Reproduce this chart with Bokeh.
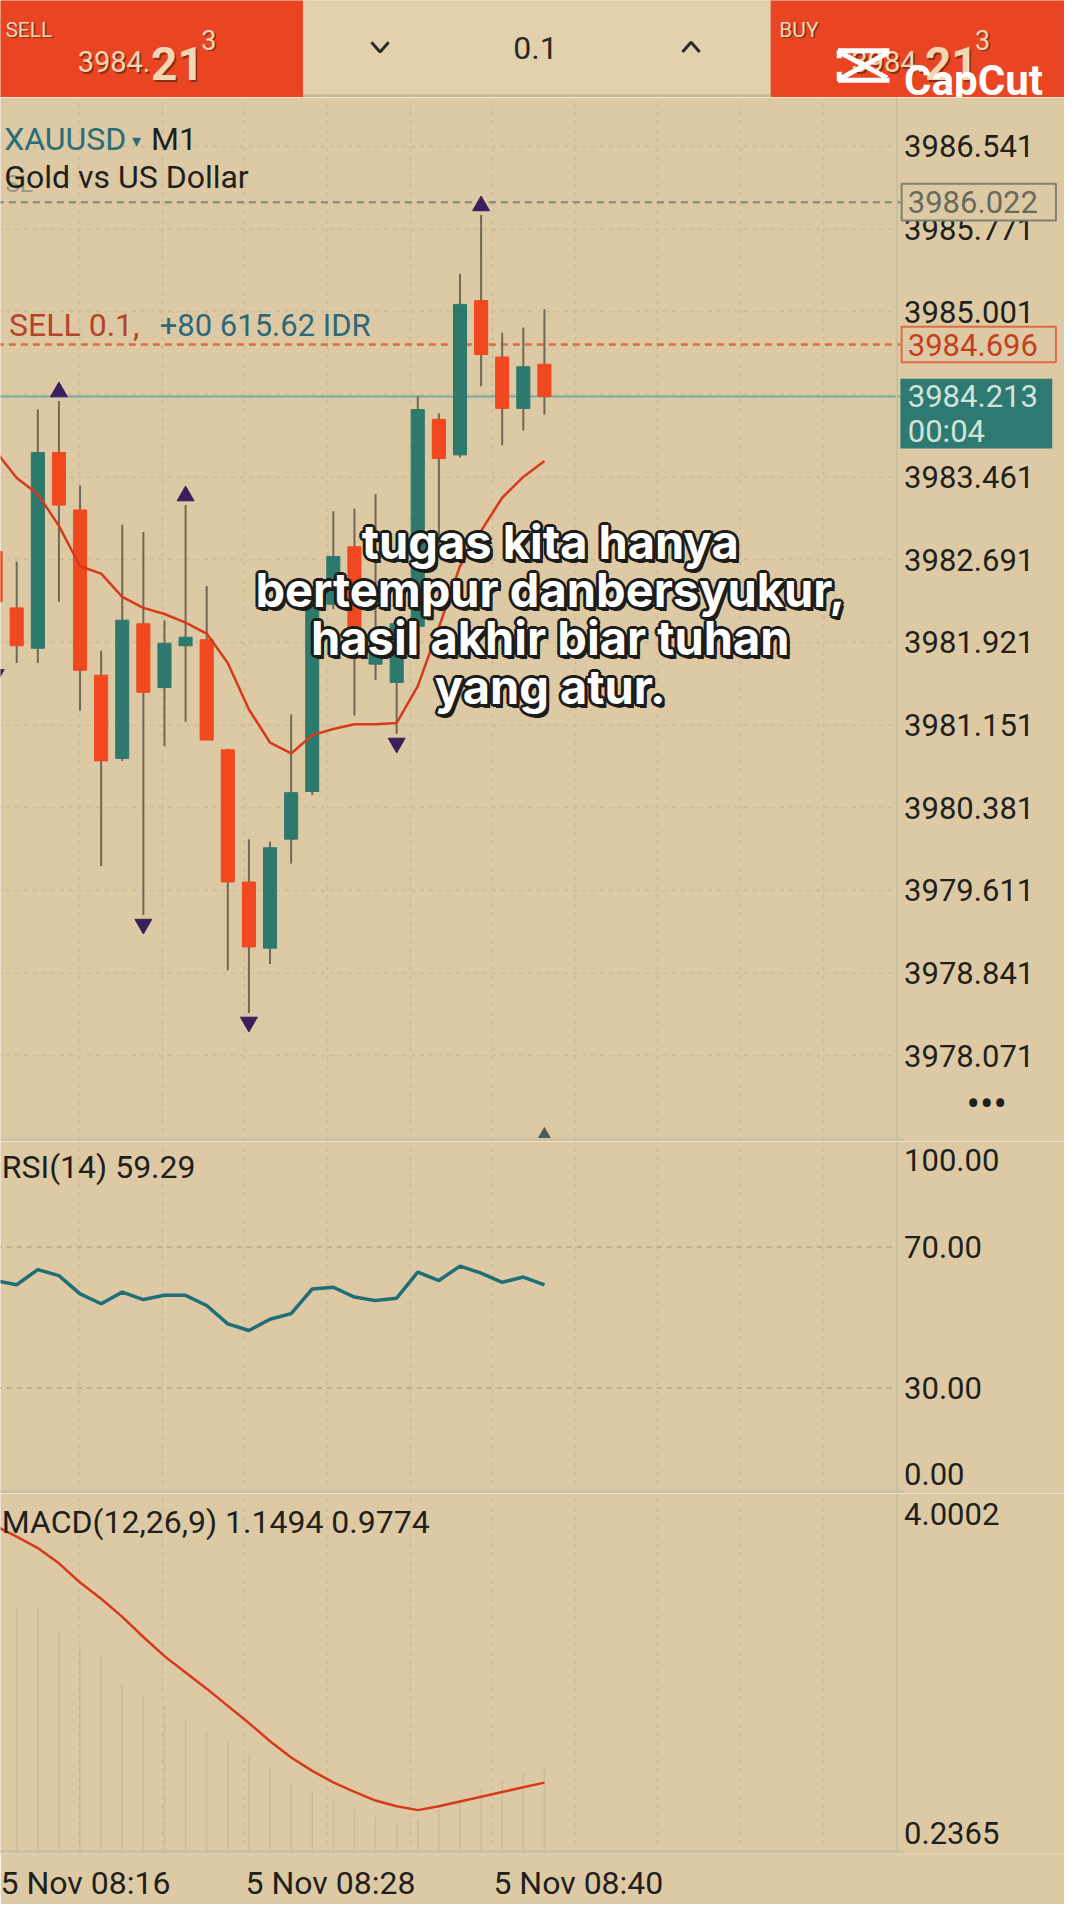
from bokeh.plotting import figure
from bokeh.models import Range1d, FixedTicker, Span
from bokeh.layouts import column
from bokeh.embed import file_html
from bokeh.resources import INLINE
from bokeh.core.properties import value

# ---------------- data ----------------
bars = list(range(27))
opens = [3982.768, 3982.243, 3981.867, 3983.691, 3983.155, 3981.616, 3980.841, 3982.095, 3981.502,
         3981.890, 3981.947, 3980.921, 3979.690, 3979.074, 3980.089, 3980.533, 3982.277, 3982.813,
         3981.719, 3981.548, 3982.072, 3983.999, 3983.668, 3985.105, 3984.580, 3984.101, 3984.512]
highs = [3982.916, 3982.676, 3984.090, 3984.170, 3983.383, 3981.844, 3983.018, 3982.950, 3982.129,
         3983.201, 3982.448, 3980.932, 3980.089, 3980.066, 3981.251, 3982.346, 3983.144, 3983.167,
         3983.303, 3982.118, 3984.215, 3984.056, 3985.355, 3985.903, 3984.808, 3984.854, 3985.025]
lows = [3981.707, 3981.730, 3981.730, 3982.300, 3981.286, 3979.838, 3980.818, 3979.382, 3980.955,
        3981.183, 3981.012, 3978.869, 3978.470, 3978.926, 3979.861, 3980.499, 3982.232, 3981.240,
        3981.571, 3981.069, 3982.004, 3982.733, 3983.645, 3984.307, 3983.759, 3983.896, 3984.044]
closes = [3982.300, 3981.890, 3983.691, 3983.201, 3981.662, 3980.818, 3982.129, 3981.457, 3981.913,
          3981.970, 3981.012, 3979.690, 3979.085, 3980.009, 3980.522, 3982.266, 3982.722, 3981.776,
          3981.947, 3982.095, 3984.090, 3983.634, 3985.070, 3984.603, 3984.101, 3984.489, 3984.213]
ma_line = [3983.702, 3983.452, 3983.303, 3983.007, 3982.631, 3982.562, 3982.346, 3982.243, 3982.186,
           3982.106, 3982.004, 3981.730, 3981.297, 3980.989, 3980.887, 3981.058, 3981.115, 3981.160,
           3981.160, 3981.172, 3981.514, 3982.061, 3982.631, 3982.961, 3983.269, 3983.463, 3983.611]
fractal_up = [3, 9, 23]
fractal_down = [0, 7, 12, 19]
rsi = [60.5, 59.3, 63.6, 61.9, 56.7, 53.9, 57.2, 55.1, 56.3, 56.3, 53.4, 48.2, 46.3, 49.5,
       51.1, 58.1, 58.6, 55.8, 54.8, 55.5, 62.9, 60.5, 64.6, 62.6, 60.0, 61.5, 59.29]
macd_hist = [2.85, 2.82, 2.80, 2.55, 2.40, 2.30, 2.00, 1.90, 1.78, 1.62, 1.50, 1.40, 1.28, 1.12,
             0.98, 0.88, 0.80, 0.70, 0.62, 0.56, 0.60, 0.70, 0.80, 0.92, 1.00, 1.08, 1.1494]
macd_signal = [3.66, 3.55, 3.43, 3.27, 3.07, 2.90, 2.71, 2.50, 2.30, 2.13, 1.96, 1.78, 1.60, 1.41,
               1.24, 1.10, 0.98, 0.88, 0.79, 0.73, 0.69, 0.73, 0.78, 0.83, 0.88, 0.93, 0.9774]
price_ticks = [3986.541, 3985.771, 3985.001, 3984.231, 3983.461, 3982.691, 3981.921,
               3981.151, 3980.381, 3979.611, 3978.841, 3978.071]
sl_price = 3986.022
entry_price = 3984.696
bid_price = 3984.213
timer_text = "00:04"
rsi_levels = [70, 30]
rsi_max, rsi_min = 100.0, 0.0
macd_max, macd_min = 4.0002, 0.2365
time_labels = ["5 Nov 08:16", "5 Nov 08:28", "5 Nov 08:40"]
caption_lines = ["tugas kita hanya", "bertempur danbersyukur,", "hasil akhir biar tuhan", "yang atur."]

# ---------------- style ----------------
BG = "#ddcaa4"
BAR_RED = "#ea4522"
MID_BG = "#e1d1ad"
C_RED = "#f0481f"
C_TEAL = "#2e796e"
WICK = "#6f6956"
MA_C = "#d63a1b"
FRAC = "#3b1f5c"
RSI_C = "#1f6e78"
GRID_C = "#cbbb96"
SEP_C = "#c8c09e"
TXT = "#1f1f1c"
FONT = "Roboto"
FS = "31px"     # price / indicator scale
FL = "32px"     # panel captions and time labels

W = 1064
H_TOP, H_MAIN, H_RSI, H_MACD, H_X = 97, 1044, 352, 361, 50

# reference-pixel helpers (reference laid out on an 882 px wide grid)
BAR_PX = 17.24
PX_PER_PRICE = 87.72
def mx(px):
    return (px + 1) / BAR_PX
def my(py):
    return price_ticks[0] - (py - 122) / PX_PER_PRICE
def ry(py):
    return (1222 - py) / 287 * (rsi_max - rsi_min)
def cy(py):
    return macd_max - (py - 1222) / 295 * (macd_max - macd_min)

x_range = Range1d(mx(3), mx(872))
AX = mx(735)           # price-scale separator
LBL = mx(741)          # left edge of scale labels
grid_x = [round(mx(0) + 3.915 * k, 3) for k in range(11)]
label_half = 70 / BAR_PX
time_ticks = [round(grid_x[k] + label_half, 3) for k in (0, 3, 6)]


def base_fig(height, y_range, bottom=0, xloc=None):
    p = figure(width=W, height=height, x_range=x_range, y_range=y_range,
               output_backend="svg", toolbar_location=None,
               x_axis_location=xloc, y_axis_location=None,
               min_border_left=0, min_border_right=0, min_border_top=0,
               min_border_bottom=bottom)
    p.background_fill_color = BG
    p.border_fill_color = BG
    p.outline_line_color = None
    p.xgrid.ticker = FixedTicker(ticks=grid_x)
    p.xgrid.grid_line_color = GRID_C
    p.xgrid.grid_line_dash = "4 5"
    p.xgrid.grid_line_width = 1.5
    p.ygrid.visible = False
    p.add_layout(Span(location=AX, dimension="height", line_color=SEP_C, line_width=2))
    return p


def txt(p, x, y, s, size=FS, color=TXT, align="left", baseline="middle", style="normal", font=FONT, **kw):
    xs = x if isinstance(x, list) else [x]
    ys = y if isinstance(y, list) else [y]
    ss = s if isinstance(s, list) else [s]
    p.text(x=xs, y=ys, text=ss, text_font=value(font), text_font_size=size,
           text_color=color, text_align=align, text_baseline=baseline,
           text_font_style=style, **kw)

# ---------------- top bar ----------------
top = figure(width=W, height=H_TOP, x_range=Range1d(3, 872), y_range=Range1d(82, 3),
             output_backend="svg", toolbar_location=None,
             x_axis_location=None, y_axis_location=None,
             min_border_left=0, min_border_right=0, min_border_top=0, min_border_bottom=0)
top.background_fill_color = BG
top.border_fill_color = BG
top.outline_line_color = None
top.xgrid.visible = False
top.ygrid.visible = False
top.quad(left=[250], right=[632], top=[0], bottom=[82], fill_color=MID_BG, line_color=None)
top.quad(left=[0, 632], right=[250, 882], top=[0, 0], bottom=[82, 82], fill_color=BAR_RED, line_color=None)
top.line(x=[250, 632], y=[80.5, 80.5], line_color="#c6b993", line_width=3)
for x0, lab in [(0, "SELL"), (632, "BUY")]:
    for dx, col in [(1.2, "#8a2f14"), (0, "#f3d6b4")]:
        txt(top, x0 + 7 + dx, 27 + dx, lab, size="21px", color=col, baseline="alphabetic")
        txt(top, x0 + 66 + dx, 53 + dx, "3984.", size="29px", color=col, baseline="alphabetic")
        txt(top, x0 + 126 + dx, 54.5 + dx, "21", size="46px", color=col, baseline="alphabetic", style="bold")
        txt(top, x0 + 167 + dx, 35 + dx, "3", size="27px", color=col, baseline="alphabetic")
top.multi_line(xs=[[687, 729], [687, 729], [688, 688], [688, 688], [690, 727], [727, 690]],
               ys=[[44, 44], [68, 68], [43.5, 50], [61, 68.5], [46, 66], [46, 66]],
               line_color="white", line_width=5)
txt(top, 741, 68, "CapCut", size="42px", color="white", baseline="alphabetic", style="bold")
top.multi_line(xs=[[306, 313, 320], [560, 567, 574]], ys=[[37, 45, 37], [45, 37, 45]],
               line_color="#2b2a26", line_width=3)
txt(top, 440, 42, "0.1", size="32px", color="#2b2a26", align="center")

# ---------------- main price panel ----------------
main = base_fig(H_MAIN, Range1d(my(935), my(82)))
n_t = len(price_ticks)
main.segment(x0=[mx(0)] * n_t, x1=[AX] * n_t, y0=price_ticks, y1=price_ticks,
             line_color=GRID_C, line_dash="4 5", line_width=1.5)
main.segment(x0=[mx(0)], x1=[mx(741)], y0=[my(934)], y1=[my(934)], line_color=SEP_C, line_width=3)

main.segment(x0=[mx(0)], x1=[mx(738)], y0=[sl_price], y1=[sl_price], line_color="#8c917b",
             line_dash="7 5", line_width=2.5)
main.segment(x0=[mx(0)], x1=[mx(738)], y0=[entry_price], y1=[entry_price], line_color="#dc6a44",
             line_dash="7 5", line_width=2.5)
main.segment(x0=[mx(0)], x1=[mx(738)], y0=[bid_price], y1=[bid_price], line_color="#78a9a2",
             line_width=2)

col = [C_TEAL if c >= o else C_RED for o, c in zip(opens, closes)]
main.segment(x0=bars, y0=lows, x1=bars, y1=highs, line_color=WICK, line_width=2)
main.vbar(x=bars, width=0.62, top=[max(o, c) for o, c in zip(opens, closes)],
          bottom=[min(o, c) for o, c in zip(opens, closes)], fill_color=col, line_color=col)
main.line(bars, ma_line, line_color=MA_C, line_width=2.5)
frac_off = 0.085
main.scatter(fractal_up, [highs[i] + frac_off for i in fractal_up], marker="triangle",
             size=17, fill_color=FRAC, line_color=FRAC)
main.scatter(fractal_down, [lows[i] - frac_off for i in fractal_down], marker="inverted_triangle",
             size=17, fill_color=FRAC, line_color=FRAC)
main.scatter([bars[-1]], [my(929)], marker="triangle", size=13, fill_color="#4f5b58", line_color=None)

# price scale labels
txt(main, [LBL] * n_t, price_ticks, ["%.3f" % t for t in price_ticks])
# level boxes on the scale
main.rect(x=[mx(802)], y=[sl_price], width=126 / BAR_PX, height=30 / PX_PER_PRICE,
          fill_color=BG, line_color="#7e8170", line_width=2)
txt(main, mx(744), sl_price, "%.3f" % sl_price, color="#686b5c")
main.rect(x=[mx(802)], y=[entry_price], width=126 / BAR_PX, height=29 / PX_PER_PRICE,
          fill_color=BG, line_color="#e06a48", line_width=2)
txt(main, mx(744), entry_price, "%.3f" % entry_price, color="#c63f1e")
main.quad(left=[mx(738)], right=[mx(862)], top=[bid_price + 14.4 / PX_PER_PRICE],
          bottom=[bid_price - 42.6 / PX_PER_PRICE], fill_color="#2e7a73", line_color=None)
txt(main, mx(744), bid_price, "%.3f" % bid_price, color="#d3e3d7")
txt(main, mx(744), bid_price - 28.6 / PX_PER_PRICE, timer_text, color="#d3e3d7")
txt(main, mx(792), my(905), "•••", size="40px")

txt(main, mx(6), my(116), "XAUUSD", size=FL, color="#2a6d77")
txt(main, mx(110), my(117), "▾", size="18px", color="#2a6d77")
txt(main, mx(126), my(116), "M1", size=FL)
txt(main, mx(7), my(153), "SL", size="24px", color="#9a9682")
txt(main, mx(6), my(147), "Gold vs US Dollar", size=FL)
txt(main, mx(10), my(268), "SELL 0.1,", size="32px", color="#b4442a")
txt(main, mx(133), my(268), "+80 615.62 IDR", size="31px", color="#2f6878")

cap_mid = [445, 484, 523, 563]
CAP_FONT = value("Inter")
for line, yc in zip(caption_lines, cap_mid):
    for dx, dy in [(-3, 0), (3, 0), (0, -3), (0, 3), (-2, -2), (2, 2), (-2, 2), (2, -2), (3, 4)]:
        main.text(x=[mx(452)], y=[my(yc)], text=[line], x_offset=dx, y_offset=dy,
                  text_font=CAP_FONT, text_font_size="47px", text_font_style="bold",
                  text_color="#1c1c1a", text_align="center", text_baseline="middle")
    main.text(x=[mx(452)], y=[my(yc)], text=[line], text_font=CAP_FONT,
              text_font_size="47px", text_font_style="bold", text_color="white",
              text_align="center", text_baseline="middle")

# ---------------- RSI panel ----------------
rp = base_fig(H_RSI, Range1d(rsi_min, rsi_max))
nl = len(rsi_levels)
rp.segment(x0=[mx(0)] * nl, x1=[AX] * nl, y0=rsi_levels, y1=rsi_levels,
           line_color="#bcb08d", line_dash="5 5", line_width=2)
rp.segment(x0=[mx(0)], x1=[mx(741)], y0=[ry(1220.5)], y1=[ry(1220.5)], line_color=SEP_C, line_width=3)
rp.line(bars, rsi, line_color=RSI_C, line_width=3.5)
txt(rp, mx(4), ry(956), "RSI(14) %.2f" % rsi[-1], size=FL)
txt(rp, LBL, ry(950), "%.2f" % rsi_max)
txt(rp, [LBL] * nl, rsi_levels, ["%.2f" % v for v in rsi_levels])
txt(rp, LBL, ry(1206), "%.2f" % rsi_min)

# ---------------- MACD panel + time axis ----------------
mp = base_fig(H_MACD + H_X, Range1d(macd_min, macd_max), bottom=H_X, xloc="below")
mp.xaxis.ticker = FixedTicker(ticks=time_ticks)
mp.xaxis.major_label_overrides = {t: s for t, s in zip(time_ticks, time_labels)}
mp.xaxis.major_label_text_font = FONT
mp.xaxis.major_label_text_font_size = FL
mp.xaxis.major_label_text_color = TXT
mp.xaxis.major_label_standoff = 4
mp.xaxis.major_tick_line_color = None
mp.xaxis.minor_tick_line_color = None
mp.xaxis.axis_line_color = None
mp.segment(x0=bars, y0=[0] * len(bars), x1=bars, y1=macd_hist, line_color="#b8ac88",
           line_width=1.5, line_alpha=0.45)
mp.segment(x0=[mx(0)], x1=[mx(741)], y0=[cy(1515.5)], y1=[cy(1515.5)], line_color=SEP_C, line_width=3)
mp.line(bars, macd_signal, line_color=MA_C, line_width=2.5)
txt(mp, mx(4), cy(1245), "MACD(12,26,9) %.4f %.4f" % (macd_hist[-1], macd_signal[-1]), size=FL)
txt(mp, LBL, cy(1239), "%.4f" % macd_max)
txt(mp, LBL, cy(1500), "%.4f" % macd_min)

layout = column(top, main, rp, mp, spacing=0)
open("out.html", "w").write(file_html(layout, INLINE))
